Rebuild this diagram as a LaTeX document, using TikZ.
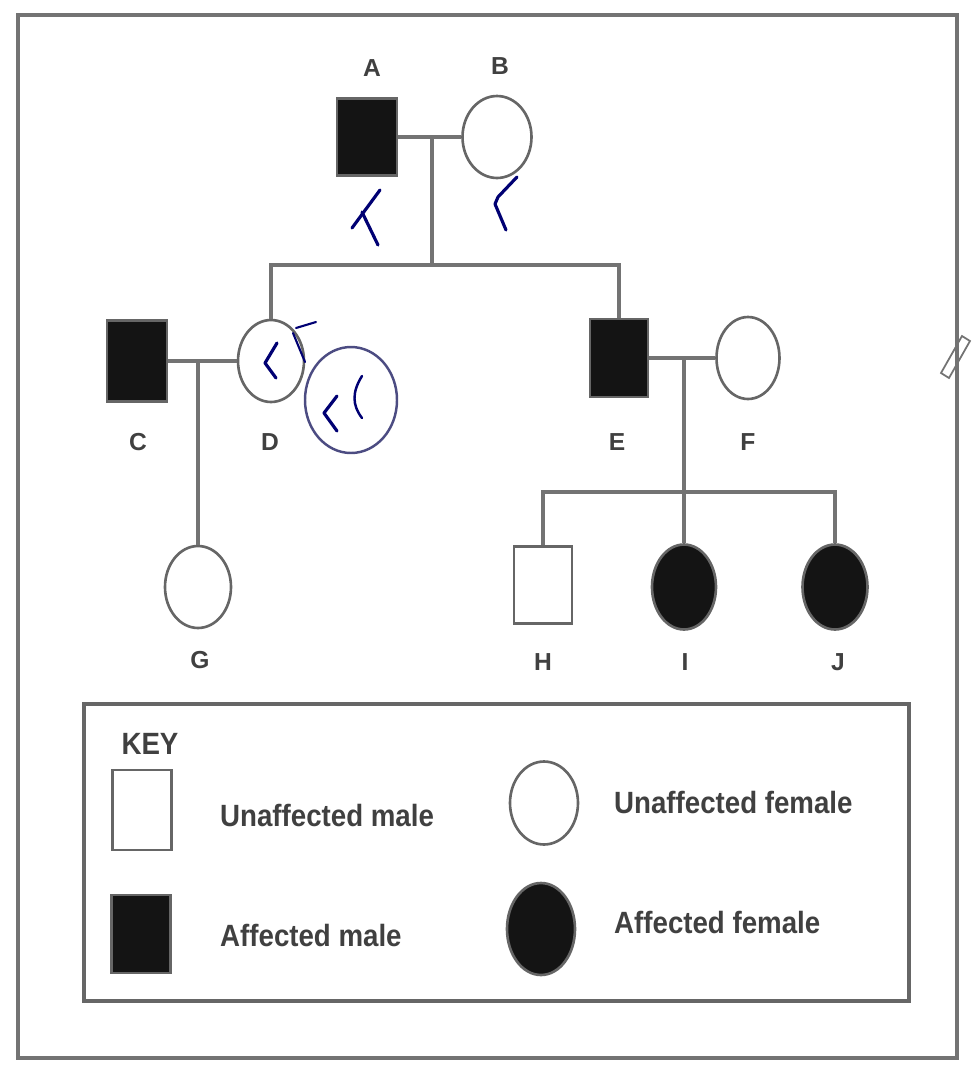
\documentclass[tikz,border=0pt]{standalone}
\usepackage{fontspec}
\setsansfont{Liberation Sans}
\newfontfamily\keyfont[FakeStretch=0.9]{Liberation Sans}
\usetikzlibrary{shapes.geometric,positioning}

\begin{document}
\begin{tikzpicture}[x=0.02cm,y=-0.02cm,
                    ped line/.style={line width=2.2pt,draw=black!55},
                    male node/.style={rectangle,draw=black!60,line width=1.5pt,inner sep=0pt,
                                      minimum width=1.16cm,minimum height=1.54cm},
                    female node/.style={ellipse,draw=black!60,line width=1.5pt,inner sep=0pt,
                                        minimum width=1.32cm,minimum height=1.64cm},
                    affected/.style={fill=black!92},
                    name label/.style={font=\sffamily\bfseries\fontsize{14}{14}\selectfont,text=black!75},
                    key text/.style={font=\keyfont\bfseries\fontsize{17.5}{18}\selectfont,text=black!75,anchor=west},
                    ink/.style={draw=blue!45!black,line width=1.8pt,line cap=round,line join=round}]
  \useasboundingbox (0,0) rectangle (980,1066);
  \draw[line width=2.4pt,draw=black!55] (18,15) rectangle (957,1058);

  % first generation
  \node[male node,affected,minimum width=1.2cm] (A) at (367,137) {};
  \node[female node,minimum width=1.38cm] (B) at (497,137) {};
  % second generation
  \node[male node,affected,minimum width=1.2cm,minimum height=1.62cm] (C) at (137,361) {};
  \node[female node] (D) at (271,361) {};
  \node[male node,affected,minimum height=1.56cm] (E) at (619,358) {};
  \node[female node,minimum width=1.26cm] (F) at (748,358) {};
  % third generation
  \node[female node] (G) at (198,587) {};
  \node[male node] (H) at (543,585) {};
  \node[female node,affected,minimum width=1.28cm,minimum height=1.7cm] (I) at (684,587) {};
  \node[female node,affected,minimum width=1.3cm,minimum height=1.7cm] (J) at (835,587) {};

  \node[name label] (labA) at (372,68) {A};
  \node[name label] (labB) at (500,66) {B};
  \node[name label] (labC) at (138,442) {C};
  \node[name label] (labD) at (270,442) {D};
  \node[name label] (labE) at (617,442) {E};
  \node[name label] (labF) at (748,442) {F};
  \node[name label] (labG) at (200,660) {G};
  \node[name label] (labH) at (543,662) {H};
  \node[name label] (labI) at (685,662) {I};
  \node[name label] (labJ) at (838,662) {J};

  \coordinate (ab) at (432,137);
  \coordinate (ab kids) at (432,265);
  \coordinate (cd) at (198,361);
  \coordinate (ef) at (684,358);
  \coordinate (ef kids) at (684,492);

  \draw[ped line] (A.east) -- (B.west);
  \draw[ped line] (ab) -- (ab kids);
  \draw[ped line] (D.north) -- (D.north |- ab kids) -- (E.north |- ab kids) -- (E.north);
  \draw[ped line] (C.east) -- (D.west);
  \draw[ped line] (cd) -- (G.north);
  \draw[ped line] (E.east) -- (F.west);
  \draw[ped line] (ef) -- (I.north);
  \draw[ped line] (H.north) -- (H.north |- ef kids) -- (J.north |- ef kids) -- (J.north);

  % pen marks
  \draw[ink] (380,190) -- (352,228);
  \draw[ink] (362,212) -- (378,245);
  \draw[ink] (517,177) -- (498,197) -- (495,204) -- (506,230);
  \draw[ink] (277,343) -- (265,363) -- (276,378);
  \draw[ink,line width=1.2pt] (293,333) -- (305,362);
  \draw[ink,line width=1.2pt] (296,328) -- (316,322);
  \draw[ink,draw=blue!30!black!70,line width=1.4pt] (351,400) ellipse [x radius=46,y radius=53];
  \draw[ink] (337,396) -- (324,413) -- (337,431);
  \draw[ink,line width=1.4pt] (362,376) .. controls (352,392) and (352,405) .. (362,418);

  % pencil mark on the frame
  \draw[black!55,line width=1pt] (941,373) -- (962,336) -- (970,341) -- (949,378) -- cycle;

  % key
  \draw[line width=2pt,draw=black!60] (84,704) rectangle (909,1001);
  \node[key text,anchor=center] (key) at (150,744) {KEY};
  \node[male node,minimum width=1.18cm,minimum height=1.6cm] (keyUM) at (142,810) {};
  \node[key text] (txtUM) at (214,815) {Unaffected male};
  \node[female node,minimum width=1.36cm,minimum height=1.66cm] (keyUF) at (544,803) {};
  \node[key text] (txtUF) at (608,802) {Unaffected female};
  \node[male node,affected,minimum width=1.18cm,minimum height=1.56cm] (keyAM) at (141,934) {};
  \node[key text] (txtAM) at (214,935) {Affected male};
  \node[female node,affected,minimum width=1.36cm,minimum height=1.84cm] (keyAF) at (541,929) {};
  \node[key text] (txtAF) at (608,922) {Affected female};
\end{tikzpicture}
\end{document}
